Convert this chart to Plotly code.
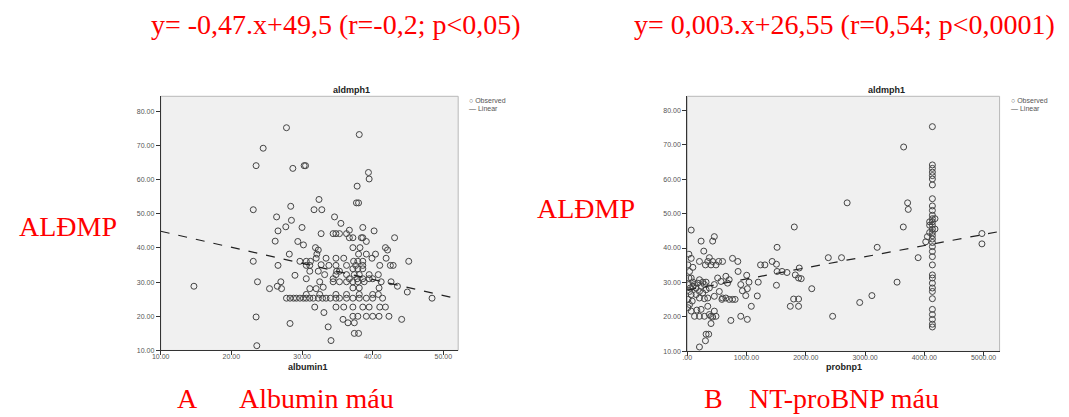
import plotly.graph_objects as go

# ---------------- data: left panel (albumin1 vs aldmph1) ----------------
alb_x = [27.8, 38.1, 24.5, 23.5, 28.7, 30.3, 30.5, 39.4, 39.5, 37.8, 32.4, 37.7, 38.0, 23.1, 28.4, 31.7, 32.8,
         26.4, 34.6, 28.5, 35.5, 27.7, 30.0, 26.6, 36.7, 38.6, 40.2, 32.7, 34.4, 34.8, 35.3, 36.3, 36.7, 37.2,
         38.4, 38.6, 43.1, 26.2, 30.2, 29.4, 39.1, 31.9, 32.3, 37.2, 38.2, 41.8, 28.2, 32.1, 38.0, 39.1, 40.4,
         42.1, 23.1, 29.7, 30.6, 31.2, 32.0, 33.4, 34.8, 35.9, 37.3, 37.9, 38.6, 39.9, 41.9, 45.1, 26.6, 30.6,
         31.1, 32.7, 33.8, 34.8, 36.3, 37.6, 38.6, 41.0, 42.5, 42.9, 37.2, 37.9, 38.6, 31.1, 32.3, 34.9, 35.3,
         29.0, 33.2, 34.8, 36.3, 37.4, 38.1, 39.5, 40.8, 30.6, 34.4, 36.7, 37.8, 38.6, 39.5, 40.0, 23.7, 27.0,
         32.5, 34.4, 35.3, 36.3, 37.2, 37.9, 38.8, 41.2, 42.6, 14.7, 25.4, 26.5, 27.1, 31.1, 32.0, 33.0, 37.2,
         38.1, 40.9, 43.5, 44.9,
         27.8, 28.3, 28.8, 29.2, 29.7, 30.2, 30.6, 31.1, 31.6, 32.3, 32.9, 33.4, 34.0, 34.8, 35.3, 36.3, 37.2,
         38.1, 39.1, 40.0, 41.4, 48.4,
         30.6, 32.5, 34.8, 36.3, 38.1, 40.0, 40.8,
         31.8, 34.8, 35.9, 37.2, 38.6, 39.5, 41.0, 41.8,
         33.1, 23.5, 35.8, 36.5, 37.4, 37.2, 37.9, 39.1, 40.0, 40.9, 42.3, 44.1, 28.3, 33.7, 37.4, 38.0, 34.1,
         23.6]
alb_y = [75.2, 73.2, 69.2, 64.1, 63.3, 64.1, 64.1, 62.1, 60.2, 58.1, 54.2, 53.2, 53.2, 51.2, 52.2, 51.2, 51.2,
         49.1, 49.1, 48.1, 47.2, 46.2, 46.0, 45.0, 45.2, 46.0, 45.0, 44.2, 44.2, 44.2, 44.2, 44.2, 43.0, 43.0,
         43.0, 43.0, 43.0, 42.0, 40.9, 41.9, 41.9, 40.1, 39.4, 40.1, 40.1, 40.1, 38.2, 38.2, 38.2, 38.2, 38.2,
         39.4, 36.1, 36.1, 36.1, 36.1, 37.0, 37.0, 37.0, 37.0, 36.1, 36.1, 36.1, 37.0, 37.0, 36.1, 34.9, 34.9,
         34.9, 35.1, 34.9, 34.9, 34.9, 34.9, 34.9, 34.9, 34.9, 34.9, 33.9, 33.9, 33.9, 33.2, 33.2, 33.2, 33.2,
         32.0, 32.2, 32.2, 32.2, 32.2, 32.2, 32.2, 32.2, 31.0, 31.0, 31.0, 31.0, 31.0, 31.0, 31.0, 30.1, 30.1,
         30.1, 30.1, 30.1, 30.1, 30.1, 30.1, 30.1, 30.1, 30.1, 28.8, 28.1, 28.8, 28.1, 28.1, 28.1, 28.5, 28.3,
         28.3, 28.3, 28.8, 27.1,
         25.3, 25.3, 25.3, 25.3, 25.3, 25.3, 25.3, 25.3, 25.3, 25.3, 25.3, 25.3, 25.3, 25.3, 25.3, 25.3, 25.3,
         25.3, 25.3, 25.3, 25.3, 25.3,
         26.4, 26.4, 26.4, 26.4, 26.4, 26.4, 26.4,
         22.7, 22.7, 22.7, 22.7, 22.7, 22.7, 22.7, 22.7,
         21.1, 19.8, 19.1, 18.1, 18.1, 20.0, 20.0, 20.0, 20.0, 20.0, 20.0, 19.1, 17.9, 16.9, 15.0, 15.0, 12.9,
         11.4]
alb_line_x = [10.0, 52.1]
alb_line_y = [44.9, 25.1]

# ---------------- data: right panel (probnp1 vs aldmph1) ----------------
col_y = [75.2, 64.1, 63.1, 62.0, 61.0, 60.0, 58.3, 54.3, 52.2, 50.9, 49.5, 48.5, 47.6, 46.6, 45.5, 44.5, 43.6,
         42.6, 41.6, 40.4, 39.0, 37.5, 35.1, 32.2, 31.3, 29.8, 28.4, 27.4, 25.3, 22.2, 20.7, 19.3, 17.9, 17.1,
         47.6, 46.6, 45.5, 48.5, 44.5]
col_x = [4136] * 34 + [4090, 4090, 4180, 4180, 4090]
bnp_x = col_x + [
    3651, 4052, 4024, 2698, 3718, 3729, 3645, 1806, 4972, 4972, 3896, 3205, 2603, 2380, 1516, 3540, 2101,
    3116, 2910, 2453, 1795, 1878, 1739, 1878, 1823, 1878, 1923, 1890, 1600, 1683, 1516, 1433, 1505, 1237,
    1310, 1505, 1198, 1182, 1081, 1003, 1042, 1014, 987, 1014, 903, 931, 858, 853, 764, 903, 808, 708, 652,
    736, 680, 708, 652, 596, 530, 485, 513, 569, 457, 596, 457, 429, 234, 279, 373, 346, 307, 429, 401, 206,
    95, 67, 67, 28,
    11, 39, 67, 95, 123, 150, 206, 262, 290, 318, 206, 262, 318, 373, 150, 206, 290, 346, 39, 67, 11, 39,
    11, 67, 123, 206, 290, 373, 401, 429, 457, 234, 346, 485, 318, 362, 307, 206, 401, 162, 95, 178, 28,
    28, 50, 84, 234, 457, 541, 585, 764]
bnp_y = col_y + [
    69.3, 43.3, 41.8, 53.1, 53.1, 51.2, 46.1, 46.1, 44.2, 41.2, 37.2, 40.2, 37.2, 37.2, 40.2, 30.1, 28.2,
    26.2, 24.2, 20.2, 25.2, 25.2, 23.1, 23.1, 32.2, 31.3, 31.1, 34.2, 33.2, 32.9, 33.2, 36.1, 35.3, 35.1,
    35.1, 29.2, 30.1, 26.1, 23.1, 32.1, 30.1, 28.2, 26.2, 19.3, 29.4, 27.6, 33.2, 36.1, 37.0, 20.2, 25.1,
    25.1, 25.5, 19.0, 29.8, 30.8, 31.8, 36.1, 36.1, 35.1, 31.3, 30.3, 26.0, 25.5, 43.3, 42.0, 42.0, 39.1,
    37.2, 36.1, 35.1, 36.1, 35.1, 36.1, 34.4, 37.0, 45.2, 38.2,
    35.1, 33.2, 31.3, 30.1, 29.4, 28.4, 30.8, 30.1, 29.4, 30.1, 27.4, 27.0, 27.9, 28.4, 26.5, 25.5, 25.3,
    25.5, 27.4, 26.5, 25.1, 23.6, 22.7, 21.7, 20.2, 20.2, 20.2, 20.7, 20.2, 20.0, 21.7, 22.2, 23.1, 20.2,
    15.0, 15.0, 13.1, 11.3, 18.1, 22.0, 28.9, 29.8, 31.3, 29.4, 28.4, 24.6, 28.9, 29.4, 27.4, 25.1, 25.1]
bnp_line_x = [0, 5270]
bnp_line_y = [27.8, 44.8]

y_ticks = [10, 20, 30, 40, 50, 60, 70, 80]
y_labels = ["10.00", "20.00", "30.00", "40.00", "50.00", "60.00", "70.00", "80.00"]
alb_ticks = [10, 20, 30, 40, 50]
alb_labels = ["10.00", "20.00", "30.00", "40.00", "50.00"]
bnp_ticks = [0, 1000, 2000, 3000, 4000, 5000]
bnp_labels = [".00", "1000.00", "2000.00", "3000.00", "4000.00", "5000.00"]

W, H = 1069, 417
RED = "#ff0000"
SERIF = "Liberation Serif, Times New Roman, serif"
SANS = "Liberation Sans, Arial, sans-serif"
MARK = dict(symbol="circle-open", size=6, color="#444444", line=dict(width=1))
LINE = dict(color="#222222", width=1.2, dash="dash")

fig = go.Figure()
fig.add_trace(go.Scatter(x=alb_x, y=alb_y, mode="markers", marker=MARK, xaxis="x", yaxis="y",
                         showlegend=False, hoverinfo="skip"))
fig.add_trace(go.Scatter(x=alb_line_x, y=alb_line_y, mode="lines", line=LINE, xaxis="x", yaxis="y",
                         showlegend=False, hoverinfo="skip"))
fig.add_trace(go.Scatter(x=bnp_x, y=bnp_y, mode="markers", marker=MARK, xaxis="x2", yaxis="y2",
                         showlegend=False, hoverinfo="skip"))
fig.add_trace(go.Scatter(x=bnp_line_x, y=bnp_line_y, mode="lines", line=LINE, xaxis="x2", yaxis="y2",
                         showlegend=False, hoverinfo="skip"))

def px_x(p):
    return p / W

def px_y(p):
    return 1 - p / H

tickfont = dict(family=SANS, size=7, color="#555555")
axis_common = dict(showgrid=False, zeroline=False, showline=True, linecolor="#333333", linewidth=1,
                   ticks="outside", ticklen=4, tickcolor="#333333", tickfont=tickfont)
xaxis_extra = dict(ticklabelstandoff=-5)

fig.update_layout(
    width=W, height=H, margin=dict(l=0, r=0, t=0, b=0),
    paper_bgcolor="white", plot_bgcolor="#f0f0f0",
    xaxis=dict(domain=[px_x(153), px_x(453)], range=[10, 52.1], tickvals=alb_ticks, ticktext=alb_labels,
               anchor="y", **axis_common, **xaxis_extra),
    yaxis=dict(domain=[px_y(353), px_y(97)], range=[10, 84.4], tickvals=y_ticks, ticktext=y_labels,
               anchor="x", **axis_common),
    xaxis2=dict(domain=[px_x(684), px_x(999)], range=[0, 5270], tickvals=bnp_ticks, ticktext=bnp_labels,
                anchor="y2", **axis_common, **xaxis_extra),
    yaxis2=dict(domain=[px_y(354), px_y(97)], range=[10, 84.0], tickvals=y_ticks, ticktext=y_labels,
                anchor="x2", **axis_common),
)

# light frame around the plot areas
for xr, yr in [("x", "y"), ("x2", "y2")]:
    fig.add_shape(type="rect", xref=f"{xr} domain", yref=f"{yr} domain", x0=0, x1=1, y0=0, y1=1,
                  line=dict(color="#b8b8b8", width=1), layer="below")

def ann(text, x, y, size, color="black", family=SANS, bold=False, xanchor="center"):
    if bold:
        text = f"<b>{text}</b>"
    fig.add_annotation(text=text, x=px_x(x), y=px_y(y), xref="paper", yref="paper", showarrow=False,
                       xanchor=xanchor, yanchor="middle", borderpad=0,
                       font=dict(family=family, size=size, color=color))

# red annotations
RS = 28
ann("y= -0,47.x+49,5 (r=-0,2; p<0,05)", 330, 25, RS, RED, SERIF)
ann("y= 0,003.x+26,55 (r=0,54; p<0,0001)", 843, 25, RS, RED, SERIF)
ann("ALĐMP", 60, 228, RS, RED, SERIF)
ann("ALĐMP", 582, 210, RS, RED, SERIF)
ann("A", 180, 401, RS, RED, SERIF)
ann("Albumin máu", 310, 401, RS, RED, SERIF)
ann("B", 710, 401, RS, RED, SERIF)
ann("NT-proBNP máu", 842, 401, RS, RED, SERIF)

# SPSS-like chart texts
ann("aldmph1", 345, 91, 9, "#222222", SANS, bold=True)
ann("aldmph1", 885, 91, 9, "#222222", SANS, bold=True)
ann("albumin1", 302, 370, 9, "#222222", SANS, bold=True)
ann("probnp1", 842, 370, 9, "#222222", SANS, bold=True)

# mini legends
ann("○ Observed", 463, 101, 7, "#555555", SANS, xanchor="left")
ann("— Linear", 463, 109, 7, "#555555", SANS, xanchor="left")
ann("○ Observed", 1010, 101, 7, "#555555", SANS, xanchor="left")
ann("— Linear", 1010, 109, 7, "#555555", SANS, xanchor="left")

fig.write_html("out.html")
